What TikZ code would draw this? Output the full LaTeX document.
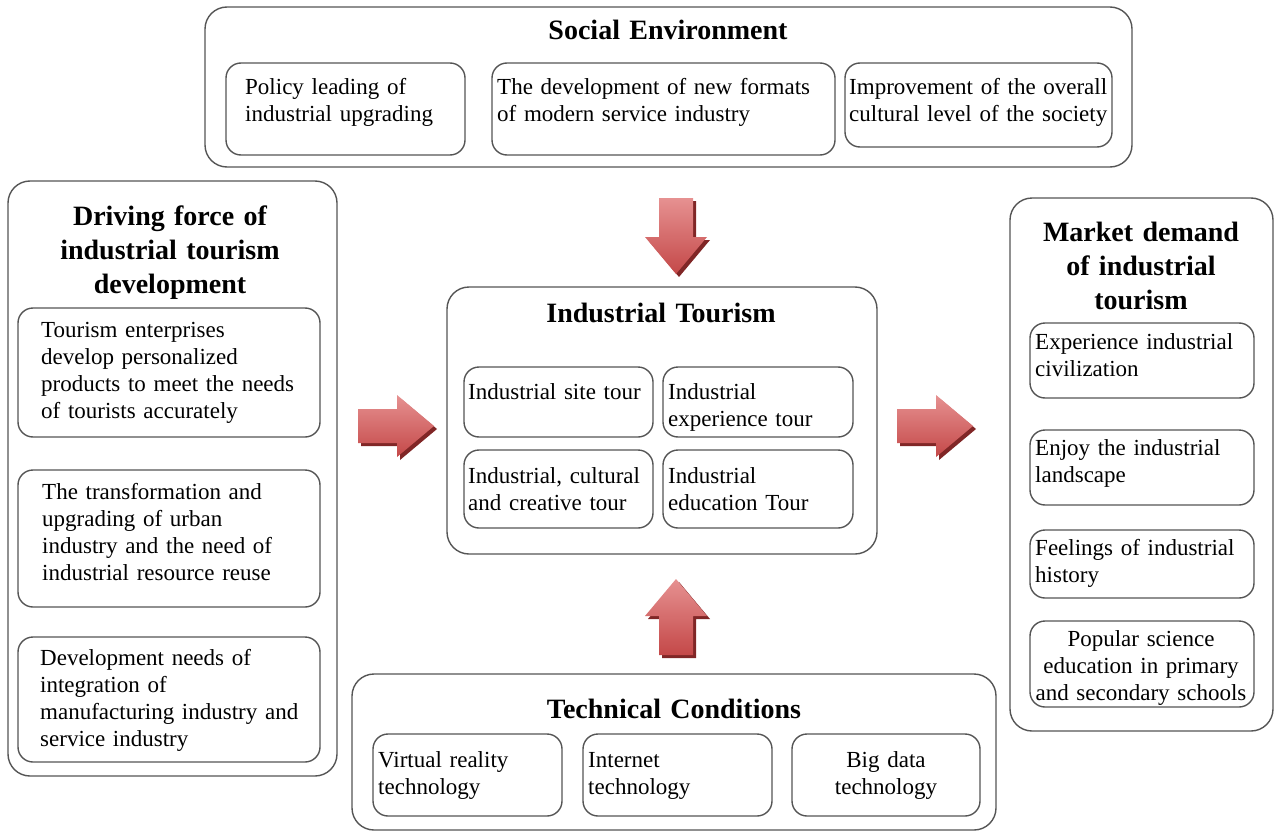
\documentclass[tikz,border=0pt]{standalone}
\usepackage{fontspec}
\setmainfont{Liberation Serif}
\usetikzlibrary{fit}
\definecolor{boxline}{RGB}{85,85,85}
\definecolor{arrowlight}{RGB}{230,145,145}
\definecolor{arrowmid}{RGB}{196,72,72}
\definecolor{arrowdark}{RGB}{128,38,38}
\hyphenpenalty=10000
\begin{document}
\begin{tikzpicture}[x=1pt,y=-1pt,
  outerbox/.style={draw=boxline, line width=1.4pt, rounded corners=22pt, inner sep=0pt},
  innerbox/.style={draw=boxline, line width=1.4pt, rounded corners=15pt, inner sep=0pt},
  titletext/.style={font=\fontsize{28}{34}\selectfont\bfseries, align=center, text width=400pt, inner sep=0pt, anchor=base},
  bodytext/.style={font=\fontsize{23}{27}\selectfont, align=left, text width=420pt, inner sep=0pt, anchor=base west},
  centertext/.style={font=\fontsize{23}{27}\selectfont, align=center, text width=300pt, inner sep=0pt, anchor=base},
  blockarrow/.style={top color=arrowlight, bottom color=arrowmid, draw=none},
  arrowshadow/.style={fill=arrowdark, draw=none},
]
\useasboundingbox (0,0) rectangle (1274,832);

% ---------- Social Environment ----------
\node[outerbox, fit={(205,7) (1132,167)}] (social) {};
\node[titletext] (socialtitle) at (668,40) {Social Environment};
\node[innerbox, fit={(226,63) (465,155)}] (s1) {};
\node[bodytext] (s1t) at (245,95) {Policy leading of\\industrial upgrading};
\node[innerbox, fit={(492,63) (835,155)}] (s2) {};
\node[bodytext] (s2t) at (497,95) {The development of new formats\\of modern service industry};
\node[innerbox, fit={(845,63) (1112,147)}] (s3) {};
\node[bodytext] (s3t) at (849,95) {Improvement of the overall\\cultural level of the society};

% ---------- Driving force ----------
\node[outerbox, fit={(8,181) (337,776)}] (drive) {};
\node[titletext] (drivetitle) at (170,225) {Driving force of\\industrial tourism\\development};
\node[innerbox, fit={(18,308) (320,437)}] (d1) {};
\node[bodytext] (d1t) at (41,337) {Tourism enterprises\\develop personalized\\products to meet the needs\\of tourists accurately};
\node[innerbox, fit={(18,470) (320,607)}] (d2) {};
\node[bodytext] (d2t) at (42,499) {The transformation and\\upgrading of urban\\industry and the need of\\industrial resource reuse};
\node[innerbox, fit={(18,637) (320,762)}] (d3) {};
\node[bodytext] (d3t) at (40,665) {Development needs of\\integration of\\manufacturing industry and\\service industry};

% ---------- Industrial Tourism ----------
\node[outerbox, fit={(447,287) (877,554)}] (tour) {};
\node[titletext] (tourtitle) at (661,322) {Industrial Tourism};
\node[innerbox, fit={(464,367) (653,437)}] (i1) {};
\node[bodytext] (i1t) at (468,399) {Industrial site tour};
\node[innerbox, fit={(663,367) (853,437)}] (i2) {};
\node[bodytext] (i2t) at (668,399) {Industrial\\experience tour};
\node[innerbox, fit={(464,450) (653,528)}] (i3) {};
\node[bodytext] (i3t) at (468,483) {Industrial, cultural\\and creative tour};
\node[innerbox, fit={(663,450) (853,528)}] (i4) {};
\node[bodytext] (i4t) at (668,483) {Industrial\\education Tour};

% ---------- Market demand ----------
\node[outerbox, fit={(1010,198) (1273,731)}] (market) {};
\node[titletext] (markettitle) at (1141,241) {Market demand\\of industrial\\tourism};
\node[innerbox, fit={(1030,323) (1254,398)}] (m1) {};
\node[bodytext] (m1t) at (1035,349) {Experience industrial\\civilization};
\node[innerbox, fit={(1030,430) (1254,505)}] (m2) {};
\node[bodytext] (m2t) at (1035,455) {Enjoy the industrial\\landscape};
\node[innerbox, fit={(1030,530) (1254,598)}] (m3) {};
\node[bodytext] (m3t) at (1035,555) {Feelings of industrial\\history};
\node[innerbox, fit={(1030,621) (1254,707)}] (m4) {};
\node[centertext] (m4t) at (1141,646) {Popular science\\education in primary\\and secondary schools};

% ---------- Technical Conditions ----------
\node[outerbox, fit={(352,674) (996,830)}] (tech) {};
\node[titletext] (techtitle) at (674,718) {Technical Conditions};
\node[innerbox, fit={(373,734) (562,816)}] (t1) {};
\node[bodytext] (t1t) at (378,767) {Virtual reality\\technology};
\node[innerbox, fit={(583,734) (772,816)}] (t2) {};
\node[bodytext] (t2t) at (588,767) {Internet\\technology};
\node[innerbox, fit={(792,734) (980,816)}] (t3) {};
\node[centertext] (t3t) at (886,767) {Big data\\technology};

% ---------- Block arrows (drawn pointing right, then rotated) ----------
\def\arrowpath{(0,-17) -- (39,-17) -- (39,-31) -- (76,0) -- (39,31) -- (39,17) -- (0,17) -- cycle}
\foreach \ox/\oy/\ang in {358/426/0, 897/426/0, 676/198/-90, 676/655/90}{
  % dark offset copy below and to the right
  \begin{scope}[shift={(\ox+3,\oy+3)}, rotate=\ang]
    \path[arrowshadow] \arrowpath;
  \end{scope}
  \begin{scope}[shift={(\ox,\oy)}, rotate=\ang]
    \path[blockarrow] \arrowpath;
  \end{scope}
}
\end{tikzpicture}
\end{document}
